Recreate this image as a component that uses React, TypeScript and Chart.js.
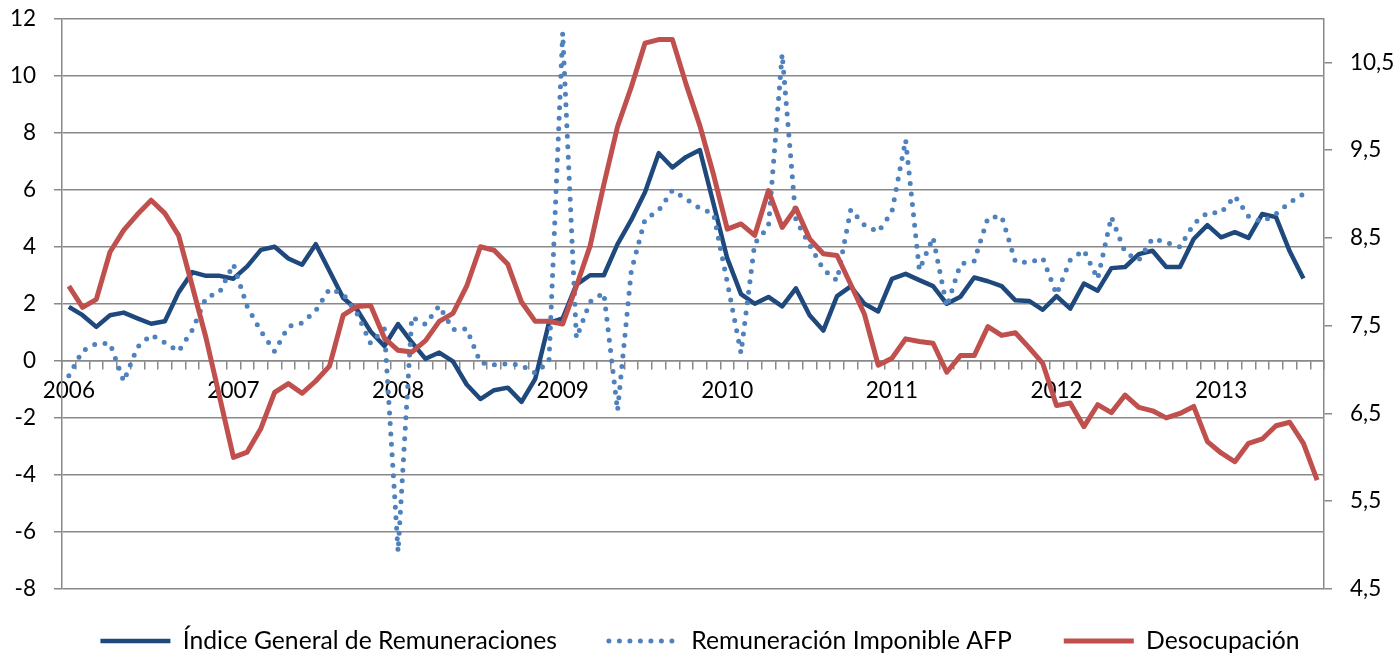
import React, { useEffect, useRef } from 'react';
import { Chart, registerables } from 'chart.js';

Chart.register(...registerables);

// Category axis: monthly observations, Jan 2006 – Aug 2013
const YEARS = ['2006', '2007', '2008', '2009', '2010', '2011', '2012', '2013'];
const MONTHS = ['ene', 'feb', 'mar', 'abr', 'may', 'jun', 'jul', 'ago', 'sep', 'oct', 'nov', 'dic'];
const categories = YEARS.flatMap((y) => MONTHS.map((m) => `${m}-${y}`)).slice(0, 92);

// Índice General de Remuneraciones (left axis, %)
const indiceGeneral = [
  1.89, 1.60, 1.19, 1.60, 1.69, 1.49, 1.30, 1.39, 2.40, 3.11, 2.98, 2.98,
  2.88, 3.31, 3.89, 4.00, 3.59, 3.37, 4.09, 3.15, 2.20, 1.80, 1.03, 0.52,
  1.29, 0.65, 0.07, 0.29, -0.02, -0.83, -1.34, -1.03, -0.94, -1.44, -0.63, 1.33,
  1.49, 2.67, 3.00, 3.00, 4.09, 4.94, 5.91, 7.28, 6.78, 7.15, 7.39, 5.50,
  3.59, 2.34, 2.00, 2.24, 1.91, 2.54, 1.60, 1.06, 2.27, 2.61, 2.00, 1.73,
  2.87, 3.05, 2.83, 2.62, 2.00, 2.25, 2.92, 2.79, 2.62, 2.12, 2.10, 1.79,
  2.27, 1.83, 2.71, 2.46, 3.25, 3.29, 3.74, 3.86, 3.29, 3.29, 4.27, 4.76,
  4.33, 4.51, 4.31, 5.15, 5.04, 3.84, 2.89,
];

// Remuneración Imponible AFP (left axis, %)
const remuneracionAFP = [
  -0.52, 0.35, 0.60, 0.61, -0.72, 0.48, 0.91, 0.64, 0.33, 1.08, 2.21, 2.41,
  3.39, 1.90, 1.04, 0.33, 1.20, 1.33, 1.76, 2.52, 2.34, 1.66, 0.61, 1.12,
  -6.69, 1.53, 1.28, 1.93, 1.10, 1.12, -0.06, -0.14, -0.10, -0.16, -0.43, -0.02,
  11.50, 0.80, 2.07, 2.38, -1.75, 3.15, 4.96, 5.27, 5.98, 5.67, 5.35, 5.15,
  2.75, 0.27, 4.12, 4.70, 10.76, 4.94, 4.06, 3.21, 2.81, 5.30, 4.76, 4.52,
  5.22, 7.75, 3.18, 4.33, 1.90, 3.39, 3.50, 5.01, 5.07, 3.48, 3.45, 3.60,
  2.33, 3.53, 3.88, 2.87, 5.05, 3.80, 3.53, 4.29, 4.15, 3.99, 4.80, 5.19,
  5.19, 5.78, 5.06, 4.87, 5.15, 5.55, 5.85,
];

// Desocupación (right axis, %)
const desocupacion = [
  7.95, 7.71, 7.80, 8.34, 8.59, 8.77, 8.93, 8.78, 8.53, 7.95, 7.36, 6.68,
  6.00, 6.06, 6.33, 6.74, 6.84, 6.73, 6.87, 7.04, 7.62, 7.72, 7.73, 7.36,
  7.22, 7.20, 7.33, 7.55, 7.64, 7.95, 8.40, 8.36, 8.20, 7.77, 7.55, 7.55,
  7.52, 7.95, 8.41, 9.11, 9.77, 10.22, 10.72, 10.76, 10.76, 10.25, 9.78, 9.22,
  8.60, 8.66, 8.53, 9.04, 8.62, 8.84, 8.49, 8.32, 8.30, 7.97, 7.63, 7.05,
  7.13, 7.35, 7.32, 7.30, 6.97, 7.16, 7.16, 7.49, 7.39, 7.42, 7.25, 7.07,
  6.59, 6.62, 6.35, 6.60, 6.51, 6.71, 6.57, 6.53, 6.45, 6.50, 6.58, 6.18,
  6.05, 5.95, 6.16, 6.21, 6.36, 6.40, 6.16, 5.74,
];

const RIGHT_TICKS = [4.5, 5.5, 6.5, 7.5, 8.5, 9.5, 10.5];

const FONT = 'Lato';
const GRID = '#898989';
const LEGEND_SIZE = 24.7;
const LEGEND_PAD = 52;
const LEGEND_CENTER_Y = 641;

const legendPlacer = {
  id: 'legendPlacer',
  afterLayout(chart: any) {
    const lg = chart.legend;
    if (!lg) return;
    const target = LEGEND_CENTER_Y - LEGEND_PAD - LEGEND_SIZE / 2;
    const dy = target - lg.top;
    lg.top += dy;
    lg.bottom += dy;
  },
};

export default function App() {
  const ref = useRef<HTMLCanvasElement | null>(null);

  useEffect(() => {
    if (!ref.current) return;
    const chart = new Chart(ref.current, {
      type: 'line',
      data: {
        labels: categories,
        datasets: [
          {
            label: 'Índice General de Remuneraciones',
            data: indiceGeneral,
            yAxisID: 'y',
            borderColor: '#1F497D',
            backgroundColor: '#1F497D',
            borderWidth: 4.5,
            pointRadius: 0,
            tension: 0,
            borderJoinStyle: 'round',
            order: 2,
          },
          {
            label: 'Remuneración Imponible AFP',
            data: remuneracionAFP,
            yAxisID: 'y',
            borderColor: '#4F81BD',
            backgroundColor: '#4F81BD',
            borderWidth: 5,
            borderDash: [0, 10.5],
            borderCapStyle: 'round',
            pointRadius: 0,
            tension: 0,
            order: 1,
          },
          {
            label: 'Desocupación',
            data: desocupacion,
            yAxisID: 'y1',
            borderColor: '#C0504D',
            backgroundColor: '#C0504D',
            borderWidth: 5,
            pointRadius: 0,
            tension: 0,
            borderJoinStyle: 'round',
            order: 0,
          },
        ],
      },
      options: {
        responsive: false,
        animation: false,
        layout: { padding: { top: 0, bottom: 657 - 589 - (LEGEND_SIZE + LEGEND_PAD + 10), left: 0, right: 0 } },
        plugins: {
          tooltip: { enabled: false },
          legend: {
            position: 'bottom',
            labels: {
              usePointStyle: true,
              pointStyle: 'line',
              pointStyleWidth: 70,
              padding: LEGEND_PAD,
              color: '#000',
              font: { family: FONT, size: LEGEND_SIZE },
              sort: (a: any, b: any) => a.datasetIndex - b.datasetIndex,
              generateLabels: (c: any) => {
                const items = (Chart.defaults.plugins.legend.labels as any).generateLabels(c);
                items.forEach((it: any) => {
                  const ds = c.data.datasets[it.datasetIndex];
                  it.lineDash = ds.borderDash || [];
                  it.lineCap = ds.borderCapStyle || 'butt';
                  it.lineWidth = ds.borderWidth;
                  it.strokeStyle = ds.borderColor;
                });
                return items;
              },
            },
          },
        },
        scales: {
          x: {
            type: 'category',
            offset: true,
            position: { y: 0 } as any,
            grid: {
              offset: true,
              drawOnChartArea: false,
              drawTicks: true,
              tickLength: 8,
              color: GRID,
              lineWidth: 1.5,
            },
            border: { display: true, color: GRID, width: 1.5 },
            ticks: {
              autoSkip: false,
              maxRotation: 0,
              minRotation: 0,
              padding: 8,
              color: '#000',
              font: { family: FONT, size: 22.5 },
              callback: (_v: any, i: number) => (i % 12 === 0 ? YEARS[i / 12] : ''),
            },
          },
          y: {
            position: 'left',
            min: -8,
            max: 12,
            ticks: {
              stepSize: 2,
              padding: 18,
              color: '#000',
              font: { family: FONT, size: 22.5, lineHeight: 0.05 },
            },
            grid: { color: GRID, lineWidth: 1.5, drawTicks: true, tickLength: 8 },
            border: { display: true, color: GRID, width: 1.5 },
            afterFit: (s: any) => {
              s.width = 62;
            },
          },
          y1: {
            position: 'right',
            min: 4.5,
            max: 11,
            afterBuildTicks: (s: any) => {
              s.ticks = RIGHT_TICKS.map((v) => ({ value: v }));
            },
            ticks: {
              padding: 18,
              color: '#000',
              font: { family: FONT, size: 22.5, lineHeight: 0.05 },
              callback: (v: any) => Number(v).toFixed(1).replace('.', ','),
            },
            grid: { drawOnChartArea: false, drawTicks: true, tickLength: 8, color: GRID, lineWidth: 1.5 },
            border: { display: true, color: GRID, width: 1.5 },
            afterFit: (s: any) => {
              s.width = 76;
            },
          },
        },
      } as any,
      plugins: [legendPlacer],
    });
    return () => chart.destroy();
  }, []);

  return (
    <div style={{ position: 'fixed', left: 0, top: 0, width: 1400, height: 657, background: '#fff' }}>
      <canvas ref={ref} width={1400} height={657} />
    </div>
  );
}
